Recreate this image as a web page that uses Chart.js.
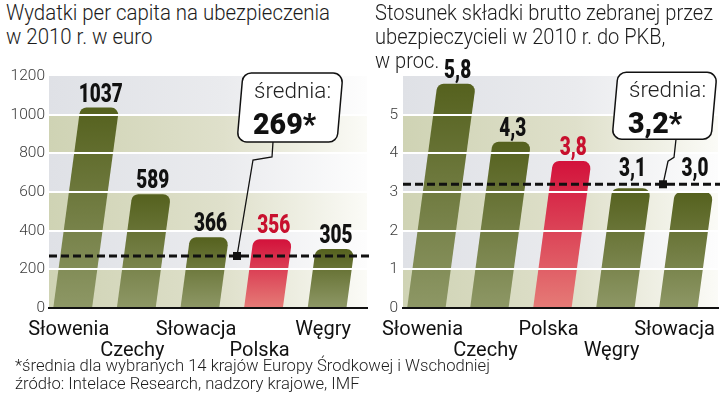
<!DOCTYPE html>
<html><head><meta charset="utf-8">
<script src="https://cdn.jsdelivr.net/npm/chart.js@4"></script>
<style>
html,body{margin:0;padding:0;background:#fff;width:720px;height:393px;overflow:hidden;}
#wrap{position:relative;width:720px;height:393px;}
.t{position:absolute;font-family:Roboto,sans-serif;font-weight:300;color:#1c1c1c;white-space:nowrap;transform-origin:0 0;}
.cv{position:absolute;}
</style></head><body>
<div id="wrap">
<div class="cv" style="left:0;top:55px;width:372px;height:312px"><canvas id="c1" width="372" height="312"></canvas></div>
<div class="cv" style="left:372px;top:55px;width:348px;height:312px"><canvas id="c2" width="348" height="312"></canvas></div>
<div class="t" id="t1" style="left:6px;top:1px;font-size:22px;line-height:24px"><span>Wydatki per capita na ubezpieczenia</span><br>w 2010 r. w euro</div>
<div class="t" id="t2" style="left:375px;top:1px;font-size:22px;line-height:24px"><span>Stosunek składki brutto zebranej przez</span><br>ubezpieczycieli w 2010 r. do PKB,<br>w proc.</div>
<div class="t" id="foot" style="left:15px;top:357px;font-size:16px;line-height:18px"><span>*średnia dla wybranych 14 krajów Europy Środkowej i Wschodniej</span><br>źródło: Intelace Research, nadzory krajowe, IMF</div>
</div>
<script>
// ---- data ----
const leftCategories = ['Słowenia','Czechy','Słowacja','Polska','Węgry'];
const leftValues = [1037, 589, 366, 356, 305];
const leftAverage = 269;
const leftMax = 1200, leftStep = 200;

const rightCategories = ['Słowenia','Czechy','Polska','Węgry','Słowacja'];
const rightValues = [5.8, 4.3, 3.8, 3.1, 3.0];
const rightAverage = 3.2;
const rightMax = 6, rightStep = 1;

const highlighted = 'Polska';

// ---- fonts ----
const VALUE_FONT = '900 26px Roboto, sans-serif';
const mctx=document.createElement('canvas').getContext('2d');
mctx.font=VALUE_FONT;
const VALUE_SCALE=Math.min(1, 44/mctx.measureText('1037').width);
const AVG_FONT = '900 29px Roboto, sans-serif';
mctx.font=AVG_FONT;
const AVG_SCALE=Math.min(1, 63/mctx.measureText('269*').width);

function fitLine(id,target){
  const el=document.getElementById(id);
  const w=el.querySelector('span').getBoundingClientRect().width;
  el.style.transform='scaleX('+(target/w)+')';
}
fitLine('t1',324); fitLine('t2',338); fitLine('foot',475);

// ---- helpers ----
function skewRoundRect(ctx,x,yb,w,h,sk,r){
  const p=[[x,yb],[x+w,yb],[x+w+sk,yb-h],[x+sk,yb-h]];
  ctx.beginPath();
  ctx.moveTo((p[3][0]+p[0][0])/2,(p[3][1]+p[0][1])/2);
  ctx.arcTo(p[0][0],p[0][1],p[1][0],p[1][1],r);
  ctx.arcTo(p[1][0],p[1][1],p[2][0],p[2][1],r);
  ctx.arcTo(p[2][0],p[2][1],p[3][0],p[3][1],r);
  ctx.arcTo(p[3][0],p[3][1],p[0][0],p[0][1],r);
  ctx.closePath();
}

const SKEW=0.135, SHIFT=-8;
const DECO={};   // per-canvas decoration settings (kept outside Chart options)

const bandPlugin={id:'bands',beforeDraw(chart){
  const o=DECO[chart.canvas.id]; const {ctx,chartArea:a,scales:{y}}=chart;
  ctx.save();
  for(let k=0;k*o.step<o.max;k++){
    const yb=y.getPixelForValue(k*o.step), yt=y.getPixelForValue((k+1)*o.step);
    const g=ctx.createLinearGradient(a.left,0,a.right,0);
    if(k%2===0){g.addColorStop(0,'#cfd3b4');g.addColorStop(0.55,'#dfe0cb');g.addColorStop(1,'#fbfbf7');}
    else{g.addColorStop(0,'#dfe1e6');g.addColorStop(0.55,'#eaebee');g.addColorStop(1,'#fdfdfd');}
    ctx.fillStyle=g; ctx.fillRect(a.left,yt,a.right-a.left,yb-yt);
  }
  ctx.restore();
}};

function barGeom(el){
  const p=el.getProps(['x','y','base','width'],true);
  const h=p.base-p.y; const bx=p.x+SHIFT; const tx=bx+SKEW*h;
  return {bx,tx,top:p.y,base:p.base,hw:p.width/2,h};
}

const barPlugin={id:'skewbars',afterDatasetsDraw(chart){
  const {ctx}=chart; const meta=chart.getDatasetMeta(0);
  ctx.save();
  meta.data.forEach((el,i)=>{
    const g0=barGeom(el); const hi=chart.data.labels[i]===highlighted;
    const r=Math.min(7,g0.h/2);
    const g=ctx.createLinearGradient(0,g0.top,0,g0.base);
    g.addColorStop(0,hi?'#d3123b':'#55611e'); g.addColorStop(1,hi?'#e57a76':'#8d9765');
    ctx.fillStyle=g;
    ctx.beginPath();
    ctx.moveTo(g0.bx-g0.hw,g0.base); ctx.lineTo(g0.bx+g0.hw,g0.base);
    ctx.arcTo(g0.tx+g0.hw,g0.top,g0.tx-g0.hw,g0.top,r);
    ctx.arcTo(g0.tx-g0.hw,g0.top,g0.bx-g0.hw,g0.base,r);
    ctx.closePath(); ctx.fill();
  });
  ctx.restore();
}};

const overlayPlugin={id:'overlay',afterDraw(chart){
  const o=DECO[chart.canvas.id]; const {ctx,chartArea:a,scales:{x,y}}=chart;
  const meta=chart.getDatasetMeta(0);
  ctx.save();
  const yA=y.getPixelForValue(o.avg);
  ctx.strokeStyle='#111'; ctx.lineWidth=3; ctx.setLineDash([8,4]);
  ctx.beginPath(); ctx.moveTo(a.left,yA); ctx.lineTo(a.right+2,yA); ctx.stroke();
  ctx.setLineDash([]);
  ctx.font=VALUE_FONT; ctx.textAlign='center'; ctx.textBaseline='alphabetic';
  meta.data.forEach((el,i)=>{
    const g0=barGeom(el); const hi=chart.data.labels[i]===highlighted;
    let by=g0.top-6;
    if(by>yA-8 && by-19<yA+2) by=yA-8;   // keep label clear of the average line
    ctx.fillStyle=hi?'#c8102e':'#111';
    ctx.save(); ctx.translate(g0.tx+1,by); ctx.scale(VALUE_SCALE,1);
    ctx.fillText(o.fmt(chart.data.datasets[0].data[i]),0,0); ctx.restore();
  });
  const mx=x.getPixelForValue(o.markerAt);
  ctx.lineWidth=1.3; ctx.strokeStyle='#111';
  ctx.beginPath();
  o.leader.forEach(([dx,dy],j)=>{ if(j) ctx.lineTo(mx+dx,yA+dy); else ctx.moveTo(mx+dx,yA+dy); });
  ctx.stroke();
  ctx.fillStyle='#111'; ctx.fillRect(mx-4,yA-4,8,8);
  const b=o.box; const bx=mx+b.dx, by=yA+b.dy;
  skewRoundRect(ctx,bx,by,b.w,b.h,b.sk,9);
  ctx.fillStyle='#fff'; ctx.fill(); ctx.lineWidth=1.5; ctx.stroke();
  const tlx=bx+b.sk, tly=by-b.h;
  ctx.textAlign='left'; ctx.fillStyle='#222';
  ctx.font='300 22.5px Roboto, sans-serif';
  ctx.fillText('średnia:',tlx+11,tly+25);
  ctx.fillStyle='#111'; ctx.font=AVG_FONT;
  ctx.save(); ctx.translate(tlx+10,tly+61); ctx.scale(AVG_SCALE,1);
  ctx.fillText(o.fmt(o.avg)+'*',0,0); ctx.restore();
  ctx.restore();
}};

function makeChart(id,cats,vals,cfg){
  DECO[id]=cfg.deco;
  const max=cfg.deco.max;
  return new Chart(document.getElementById(id),{
    type:'bar',
    data:{labels:cats,datasets:[{data:vals,backgroundColor:'rgba(0,0,0,0)',borderWidth:0,categoryPercentage:1,barPercentage:0.61}]},
    options:{
      responsive:false,animation:false,
      layout:{padding:{top:21,right:cfg.padRight,left:0,bottom:0}},
      plugins:{legend:{display:false},tooltip:{enabled:false}},
      scales:{
        x:{grid:{display:false,drawTicks:false},border:{display:true,color:'#111',width:2,z:2},
          ticks:{autoSkip:false,maxRotation:0,padding:11,labelOffset:-12,color:'#111',
            font:{family:'Roboto',size:20,lineHeight:1.08},
            callback:(v,i)=> i%2 ? ['',cats[i]] : [cats[i],'']},
          afterFit:s=>{s.height=59;s.paddingLeft=0;s.paddingRight=0;}},
        y:{min:0,max:max,
          grid:{z:1,lineWidth:2,drawTicks:false,color:c=>(c.tick&&c.tick.value>0&&c.tick.value<max)?'#ffffff':'rgba(0,0,0,0)'},
          border:{display:false},
          ticks:{stepSize:cfg.deco.step,padding:cfg.tickPad,color:'#3a3a3a',font:{family:'Roboto',weight:300,size:15.5},
            callback:v=> (cfg.hideTop && v===max) ? '' : v},
          afterFit:s=>{s.width=cfg.axisWidth;s.paddingTop=0;s.paddingBottom=0;}}
      }
    },
    plugins:[bandPlugin,barPlugin,overlayPlugin]
  });
}

makeChart('c1',leftCategories,leftValues,{
  padRight:5,axisWidth:49,tickPad:4,hideTop:false,
  deco:{max:leftMax,step:leftStep,avg:leftAverage,fmt:v=>String(v),
    markerAt:2.456,box:{dx:0,dy:-114,w:100,h:69,sk:6},
    leader:[[36,-114],[35,-99],[16,-96],[0,0]]}
});
makeChart('c2',rightCategories,rightValues,{
  padRight:2,axisWidth:31,tickPad:5,hideTop:true,
  deco:{max:rightMax,step:rightStep,avg:rightAverage,fmt:v=>v.toFixed(1).replace('.',','),
    markerAt:3.627,box:{dx:-51,dy:-45,w:99,h:67,sk:6},
    leader:[[13,-45],[11,-27],[5,-23],[0,0]]}
});
</script>
</body></html>
